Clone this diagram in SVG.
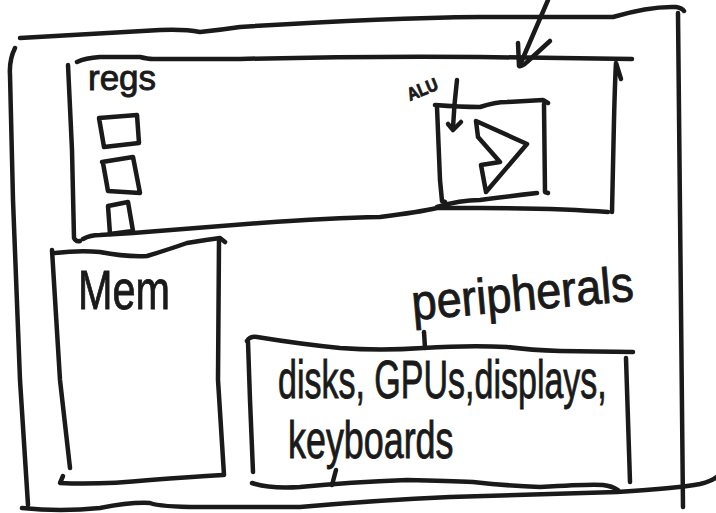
<svg xmlns="http://www.w3.org/2000/svg" width="716" height="513" viewBox="0 0 716 513">
<style>
.ln{fill:none;stroke:#1a1a1a;stroke-width:4.5;stroke-linecap:round;stroke-linejoin:round}
.tx{font-family:"Liberation Sans","DejaVu Sans",sans-serif;fill:#1a1a1a;stroke:#1a1a1a;stroke-width:0.9}
</style>
<rect width="716" height="513" fill="#ffffff"/>
<g id="computer">
<path class="ln" d="M20,38 Q90,34 160,30 Q185,29 200,32 Q220,30 240,27 Q380,18 480,17 L613,17 Q650,6 676,7 Q682,8 684,11"/>
<path class="ln" d="M678,13 L683,507"/>
<path class="ln" d="M15,48 Q9,60 10,75 L13,200 Q17,300 20,380 L28,505"/>
<path class="ln" d="M22,508 Q60,512 100,508 Q130,502 150,503 Q160,507 200,507 L300,507 Q380,500 450,497 L617,492 Q680,488 700,484 Q712,481 718,476"/>
</g>
<g id="cpu">
<path class="ln" d="M77,62 Q85,58 100,57 L140,57 Q148,59 153,59 L240,59 Q360,56 480,57 L632,59"/>
<path class="ln" d="M68,65 L72,150 L74,238 Q76,242 80,241"/>
<path class="ln" d="M83,239 Q90,235 100,235 L133,233 Q200,228 260,223 Q330,218 380,217 Q420,212 437,208 L480,208 Q560,208 608,212"/>
<path class="ln" d="M612,212 L614,120 Q615,80 616,63 L621,79"/>
</g>
<g id="regs">
<text class="tx" x="88" y="90" font-size="35">regs</text>
<path class="ln" d="M99,118 L137,115 L139,143 L104,147 Z"/>
<path class="ln" d="M102,162 L133,157 L140,193 L108,191 L103,163"/>
<path class="ln" d="M108,206 L128,202 L133,231 L110,234 Z"/>
</g>
<g id="alu">
<text class="tx" font-size="18" font-weight="bold" transform="translate(410,101) rotate(-22) scale(0.86,1)">ALU</text>
<path class="ln" d="M435,105 Q460,107 480,107 Q495,102 507,102 L543,100 L548,103"/>
<path class="ln" d="M437,107 L440,180 L442,201 L445,202"/>
<path class="ln" d="M437,207 Q460,200 480,200 Q510,196 537,193"/>
<path class="ln" d="M544,104 L545,192 L548,193"/>
<path class="ln" d="M476,121 L478,137 L500,162 L481,165 L486,192 L527,144 Z"/>
</g>
<g id="mem">
<path class="ln" d="M55,253 Q80,250 100,252 Q125,257 147,256 Q170,249 187,243 Q205,240 220,238 L225,242"/>
<path class="ln" d="M52,250 L60,380 L70,468"/>
<path class="ln" d="M219,240 L218,380 L224,475"/>
<path class="ln" d="M63,476 L60,483 Q100,485 150,480 Q190,477 223,475"/>
<text class="tx" font-size="56" transform="translate(78,309) scale(0.74,1)">Mem</text>
</g>
<g id="peripherals">
<text class="tx" font-size="50" transform="translate(413,320) rotate(-5) scale(0.9,1)">peripherals</text>
<path class="ln" d="M424,332 L425,348"/>
<path class="ln" d="M247,341 Q250,336 257,337 Q300,344 340,348 Q380,351 423,348 Q470,345 507,347 Q530,350 560,351 L633,352"/>
<path class="ln" d="M248,342 L250,400 L253,472"/>
<path class="ln" d="M626,358 L628,420 L630,482"/>
<path class="ln" d="M252,483 Q270,489 300,487 Q350,482 407,480 Q450,481 473,482 Q510,486 540,487 Q590,484 603,485 Q612,486 618,490"/>
<text class="tx" font-size="54" transform="translate(278,398) scale(0.63,1)">disks, GPUs,displays,</text>
<text class="tx" font-size="52" transform="translate(288,458) scale(0.69,1)">keyboards</text>
<path class="ln" d="M336,470 L332,485"/>
</g>
<g id="connectors">
<path class="ln" d="M548,0 Q535,30 520,65"/>
<path class="ln" d="M518,43 L519,66 Q522,67 527,62 L550,41"/>
<path class="ln" d="M457,80 Q454,105 453,128"/>
<path class="ln" d="M448,124 L453,130 L461,122"/>
</g>
</svg>
